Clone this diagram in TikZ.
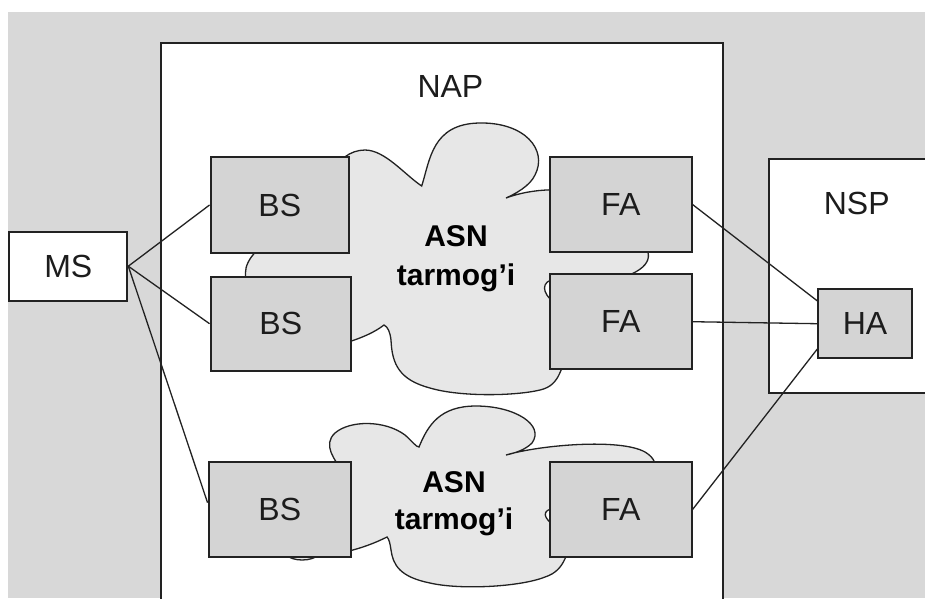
\documentclass[tikz,border=0pt]{standalone}
\usepackage{fontspec}
\setmainfont{Liberation Sans}
\usetikzlibrary{calc}
\definecolor{bggray}{RGB}{216,216,216}
\definecolor{boxgray}{RGB}{212,212,212}
\definecolor{cloudgray}{RGB}{231,231,231}
\definecolor{edgec}{RGB}{34,34,34}
\definecolor{textc}{RGB}{28,28,28}
\begin{document}
\begin{tikzpicture}[x=1pt,y=-1pt,
  box/.style={draw=edgec, line width=2pt, fill=boxgray, text=textc,
    font=\fontsize{32}{32}\selectfont, inner sep=0pt},
  frame/.style={draw=edgec, line width=2pt, fill=white},
  cloudshape/.style={draw=edgec, line width=1.3pt, fill=cloudgray},
  link/.style={draw=edgec, line width=1.3pt},
  lbl/.style={text=textc, font=\fontsize{32}{32}\selectfont, inner sep=0pt},
  asn/.style={text=black, font=\bfseries\fontsize{30}{30}\selectfont, inner sep=0pt, anchor=base}]

\useasboundingbox (0,0) rectangle (925,598);
\fill[white] (0,0) rectangle (925,598);
\fill[bggray] (8,12) rectangle (925,598);

% NAP and NSP frames
\path[frame] (161,606) -- (161,42.5) -- (722.5,42.5) -- (722.5,606);
\path[frame] (936,159.3) -- (768.7,159.3) -- (768.7,393.3) -- (936,393.3);

% cloud 1
\path[cloudshape] (330,175)
 .. controls (338,160) and (350,150) .. (365,150)
 .. controls (385,150) and (405,175) .. (421.7,186)
 .. controls (430,160) and (432,124) .. (479,123)
 .. controls (525,122) and (548,150) .. (535,175)
 .. controls (530,186) and (515,194) .. (506,198)
 .. controls (525,191) and (545,189) .. (565,190)
 -- (640,240)
 .. controls (656,256) and (650,270) .. (615,280)
 -- (555,279)
 .. controls (541,281) and (541,293) .. (555,303)
 -- (570,350)
 .. controls (560,365) and (562,385) .. (540,390)
 .. controls (515,396) and (460,397) .. (430,388)
 .. controls (400,380) and (392,365) .. (391,340)
 .. controls (390,332) and (388,327) .. (384,325)
 .. controls (375,332) and (362,338) .. (345,343)
 -- (260,300)
 -- (252,290)
 .. controls (240,275) and (245,260) .. (262,246)
 -- cycle;

% cloud 2
\path[cloudshape] (343,472)
 .. controls (335,460) and (322,445) .. (335,433)
 .. controls (350,420) and (385,420) .. (405,435)
 .. controls (412,441) and (416,447) .. (419,447)
 .. controls (428,425) and (440,406) .. (476,406)
 .. controls (515,406) and (545,425) .. (532,443)
 .. controls (525,450) and (515,453) .. (506,455)
 .. controls (540,445) and (620,438) .. (645,452)
 .. controls (655,458) and (657,465) .. (655,475)
 -- (600,505)
 -- (555,508)
 .. controls (541,510) and (543,518) .. (555,526)
 -- (575,535)
 .. controls (566,550) and (567,570) .. (545,577)
 .. controls (520,587) and (460,590) .. (430,583)
 .. controls (400,577) and (393,565) .. (391,550)
 .. controls (390,543) and (389,539) .. (387,537)
 .. controls (375,543) and (362,548) .. (345,552)
 -- (320,554)
 .. controls (312,562) and (292,562) .. (285,554)
 -- cycle;

% boxes
\node[box, fill=white, minimum width=118pt, minimum height=69pt] (MS) at (68.3,266.2) {MS};
\node[box, minimum width=138.5pt, minimum height=95.4pt] (BS1) at (279.8,205) {BS};
\node[box, minimum width=140.5pt, minimum height=94pt] (BS2) at (280.8,323.7) {BS};
\node[box, minimum width=142.5pt, minimum height=95.6pt] (BS3) at (279.8,509.5) {BS};
\node[box, minimum width=141.5pt, minimum height=94.4pt] (FA1) at (620.8,204.5) {FA};
\node[box, minimum width=141.5pt, minimum height=94.7pt] (FA2) at (620.8,321.7) {FA};
\node[box, minimum width=141.5pt, minimum height=95.6pt] (FA3) at (620.8,509.5) {FA};
\node[box, minimum width=93.4pt, minimum height=69.3pt] (HA) at (865,323.7) {HA};

% labels
\node[lbl] (nap) at (450.4,86.7) {NAP};
\node[lbl] (nsp) at (856.7,203.3) {NSP};
\node[asn] (asn1a) at (456,246.7) {ASN};
\node[asn] (asn1b) at (456,285) {tarmog’i};
\node[asn] (asn2a) at (454,492.7) {ASN};
\node[asn] (asn2b) at (454,529.3) {tarmog’i};

% connectors
\coordinate (bs3in) at ($(BS3.north west)!0.43!(BS3.south west)$);
\coordinate (hatop) at ($(HA.north west)!0.18!(HA.south west)$);
\coordinate (habot) at ($(HA.north west)!0.855!(HA.south west)$);
\draw[link] (MS.east) -- (BS1.west);
\draw[link] (MS.east) -- (BS2.west);
\draw[link] (MS.east) -- (bs3in);
\draw[link] (FA1.east) -- (hatop);
\draw[link] (FA2.east) -- (HA.west);
\draw[link] (FA3.east) -- (habot);
\end{tikzpicture}
\end{document}
